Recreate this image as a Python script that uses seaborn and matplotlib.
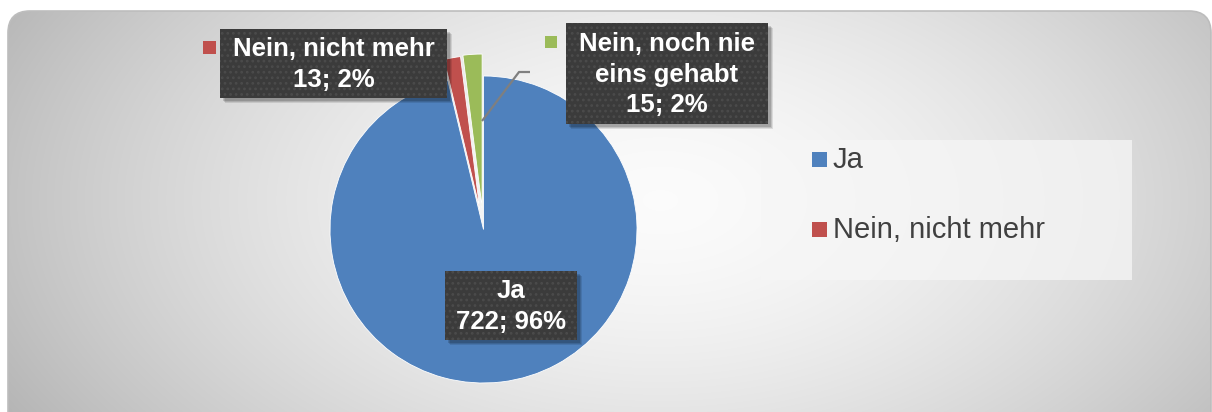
import numpy as np
import matplotlib
matplotlib.use("Agg")
import matplotlib.pyplot as plt
from matplotlib.patches import FancyBboxPatch, Rectangle
import seaborn as sns

# ---- data ----
categories = ["Ja", "Nein, nicht mehr", "Nein, noch nie eins gehabt"]
values = [722, 13, 15]
label_texts = ["Ja\n722; 96%", "Nein, nicht mehr\n13; 2%", "Nein, noch nie\neins gehabt\n15; 2%"]
legend_shown = ["Ja", "Nein, nicht mehr"]

sns.set_theme(style="white")
plt.rcParams['font.family'] = ['Liberation Sans', 'DejaVu Sans']
colors = sns.color_palette(["#4f81bd", "#c0504d", "#9bbb59"])

W, H = 1212, 412
fig = plt.figure(figsize=(W / 100, H / 100), dpi=100)
fig.patch.set_facecolor("white")
ax = fig.add_axes([0, 0, 1, 1])

def Y(y):
    return H - y

# background rounded panel with radial gradient
yy, xx = np.mgrid[0:H, 0:W]
d = np.sqrt(((xx - 660) / 650.0) ** 2 + ((yy - 200) / 380.0) ** 2)
v = np.clip(0.985 - 0.22 * d ** 1.6, 0, 1)
img = np.dstack([v, v, v])
panel = FancyBboxPatch((8, -40), W - 8 - 1, Y(11) + 40, boxstyle="round,pad=0,rounding_size=22",
                       facecolor="none", edgecolor="#bdbdbd", linewidth=1.2, zorder=1)
ax.add_patch(panel)
im = ax.imshow(img, extent=(0, W, 0, H), origin="upper", zorder=0, interpolation="bilinear")
im.set_clip_path(panel)

# pie
wedges, _ = ax.pie(values, colors=colors, startangle=90, counterclock=False,
                   explode=[0, 21, 22], center=(483.5, Y(229.5)), radius=153.5,
                   wedgeprops=dict(edgecolor="white", linewidth=0.6), frame=True)
for w in wedges:
    w.set_zorder(3)

# leader line for green label
ax.plot([482, 519, 530], [Y(121), Y(72), Y(72)], color="#7f7f7f", lw=1.6, zorder=4,
        solid_capstyle="butt")

def label_box(x0, y0, x1, y1, text, fs):
    for i, a in enumerate([0.10, 0.12, 0.15]):
        off = 5 - i
        ax.add_patch(Rectangle((x0 + off, Y(y1) - off), x1 - x0, y1 - y0,
                               facecolor="#000000", alpha=a, linewidth=0, zorder=5))
    ax.add_patch(Rectangle((x0, Y(y1)), x1 - x0, y1 - y0, facecolor="#3b3b3b",
                           edgecolor="#4b4b4b", linewidth=0, hatch="...", zorder=6))
    ax.text((x0 + x1) / 2, Y((y0 + y1) / 2) - 1, text, ha="center", va="center",
            multialignment="center", color="white", fontsize=fs, fontweight="bold",
            linespacing=1.32, zorder=7)

plt.rcParams['hatch.linewidth'] = 1.2
label_box(445, 271, 577, 340, label_texts[0], 18.5)
label_box(220, 29, 447, 98, label_texts[1], 18.5)
label_box(566, 23, 768, 124, label_texts[2], 18.5)

# small colour keys next to the label boxes
ax.add_patch(Rectangle((203, Y(54)), 13, 13, facecolor=colors[1], linewidth=0, zorder=6))
ax.add_patch(Rectangle((545, Y(48)), 12, 12, facecolor=colors[2], linewidth=0, zorder=6))

# legend
ax.add_patch(Rectangle((761, Y(280)), 1132 - 761, 140, facecolor="#f6f6f6", alpha=0.75,
                       linewidth=0, zorder=2))
leg_y = [168, 238]
for i, name in enumerate(legend_shown):
    ax.add_patch(Rectangle((812, Y(leg_y[i] - 1)), 15, 15, facecolor=colors[i], linewidth=0, zorder=3))
    ax.text(833, Y(leg_y[i]), name, ha="left", va="baseline", color="#404040",
            fontsize=21, zorder=3)

ax.set_xlim(0, W)
ax.set_ylim(0, H)
ax.set_aspect("equal")
ax.axis("off")

fig.savefig("out.png", dpi=100, facecolor=fig.get_facecolor())
